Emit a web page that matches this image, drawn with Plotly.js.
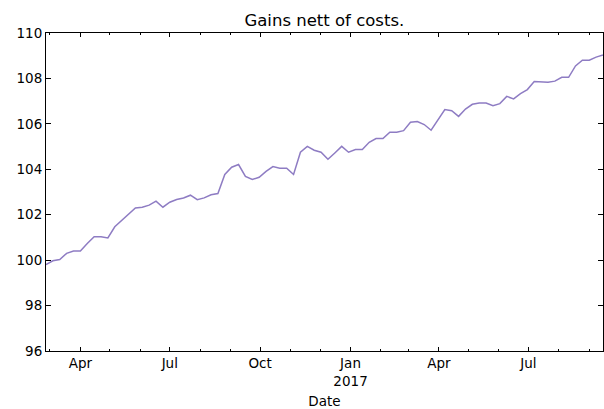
<!DOCTYPE html>
<html>
<head>
<meta charset="utf-8">
<script src="https://cdn.plot.ly/plotly-3.0.1.min.js"></script>
<style>html,body{margin:0;padding:0;background:#fff;}#chart{width:604px;height:409px;}</style>
</head>
<body>
<div id="chart"></div>
<script>
// Weekly dates (Fridays)
const dates = [
  "2016-02-26","2016-03-04","2016-03-11","2016-03-18","2016-03-25",
  "2016-04-01","2016-04-08","2016-04-15","2016-04-22","2016-04-29",
  "2016-05-06","2016-05-13","2016-05-20","2016-05-27",
  "2016-06-03","2016-06-10","2016-06-17","2016-06-24",
  "2016-07-01","2016-07-08","2016-07-15","2016-07-22","2016-07-29",
  "2016-08-05","2016-08-12","2016-08-19","2016-08-26",
  "2016-09-02","2016-09-09","2016-09-16","2016-09-23","2016-09-30",
  "2016-10-07","2016-10-14","2016-10-21","2016-10-28",
  "2016-11-04","2016-11-11","2016-11-18","2016-11-25",
  "2016-12-02","2016-12-09","2016-12-16","2016-12-23","2016-12-30",
  "2017-01-06","2017-01-13","2017-01-20","2017-01-27",
  "2017-02-03","2017-02-10","2017-02-17","2017-02-24",
  "2017-03-03","2017-03-10","2017-03-17","2017-03-24","2017-03-31",
  "2017-04-07","2017-04-14","2017-04-21","2017-04-28",
  "2017-05-05","2017-05-12","2017-05-19","2017-05-26",
  "2017-06-02","2017-06-09","2017-06-16","2017-06-23","2017-06-30",
  "2017-07-07","2017-07-14","2017-07-21","2017-07-28",
  "2017-08-04","2017-08-11","2017-08-18","2017-08-25",
  "2017-09-01","2017-09-08","2017-09-15"
];
// Gains nett of costs (index values)
const gains = [
  99.80, 99.97, 100.03, 100.30, 100.40,
  100.40, 100.73, 101.03, 101.03, 100.98,
  101.47, 101.75, 102.03, 102.30,
  102.33, 102.42, 102.60, 102.33,
  102.55, 102.67, 102.74, 102.86, 102.66,
  102.74, 102.88, 102.93, 103.77,
  104.09, 104.21, 103.69, 103.55, 103.65,
  103.91, 104.12, 104.05, 104.05,
  103.77, 104.75, 105.01, 104.84,
  104.75, 104.44, 104.72, 105.01, 104.75,
  104.87, 104.87, 105.19, 105.35,
  105.35, 105.63, 105.63, 105.70,
  106.07, 106.10, 105.97, 105.72, 106.19,
  106.63, 106.58, 106.33, 106.65,
  106.86, 106.92, 106.92, 106.80,
  106.89, 107.21, 107.10, 107.33, 107.51,
  107.86, 107.86, 107.83, 107.88,
  108.05, 108.05, 108.55, 108.80,
  108.80, 108.94, 109.03
];
// Tick labels
const xTickVals = ["2016-04-01","2016-07-01","2016-10-01","2017-01-01","2017-04-01","2017-07-01"];
const xTickText = ["Apr","Jul","Oct","Jan<br>2017","Apr","Jul"];
const yTickVals = [96, 98, 100, 102, 104, 106, 108, 110];
const yTickText = ["96","98","100","102","104","106","108","110"];

const font = {family: "DejaVu Sans", size: 13.5, color: "#000"};

const trace = {
  x: dates, y: gains, type: "scatter", mode: "lines",
  line: {color: "#8e7cc3", width: 1.5},
  hoverinfo: "skip"
};

const layout = {
  width: 604, height: 409,
  margin: {l: 46, r: 1, t: 33, b: 58, pad: 0},
  paper_bgcolor: "#fff", plot_bgcolor: "#fff",
  font: font,
  showlegend: false,
  title: {text: "Gains nett of costs.", font: {family: "DejaVu Sans", size: 16.5, color: "#000"},
          x: 0.537, xanchor: "center", y: 0.951, yanchor: "middle", yref: "container"},
  xaxis: {
    type: "date",
    range: ["2016-02-26", "2017-09-15"],
    tickmode: "array", tickvals: xTickVals, ticktext: xTickText,
    ticks: "inside", ticklen: 4, tickwidth: 1, tickcolor: "#000",
    minor: {dtick: "M1", tick0: "2016-01-01", ticks: "inside", ticklen: 2, tickcolor: "#000", showgrid: false},
    showline: true, linecolor: "#000", linewidth: 1, mirror: "ticks",
    showgrid: false, zeroline: false,
    tickfont: font,
    title: {text: "Date", font: font, standoff: 11},
    automargin: false
  },
  yaxis: {
    range: [96, 110],
    tickmode: "array", tickvals: yTickVals, ticktext: yTickText,
    ticks: "inside", ticklen: 5, tickwidth: 1, tickcolor: "#000",
    showline: true, linecolor: "#000", linewidth: 1, mirror: "ticks",
    showgrid: false, zeroline: false,
    tickfont: font,
    automargin: false
  }
};

Plotly.newPlot("chart", [trace], layout, {staticPlot: true, displayModeBar: false});
</script>
</body>
</html>
